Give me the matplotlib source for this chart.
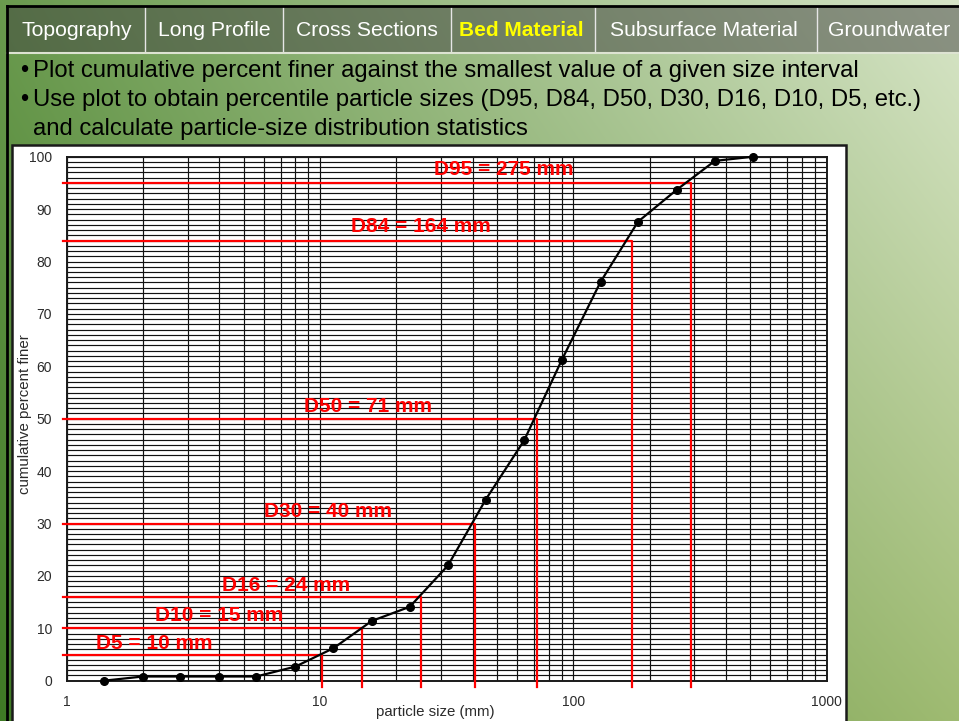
import numpy as np
import matplotlib
matplotlib.use("Agg")
import matplotlib.pyplot as plt
from matplotlib.patches import Rectangle
from matplotlib.ticker import LogLocator, MultipleLocator, NullFormatter

plt.rcParams['font.family'] = ['Liberation Sans', 'DejaVu Sans']

# cumulative percent finer vs smallest size of each interval
sizes = [1.4, 2, 2.8, 4, 5.6, 8, 11.3, 16, 22.6, 32, 45, 64, 90, 128, 180, 256, 362, 512]
pct_finer = [0, 0.8, 0.8, 0.8, 0.8, 2.7, 6.2, 11.4, 14.1, 22.0, 34.5, 45.9, 61.2, 76.1, 87.6, 93.7, 99.2, 100]

# percentiles: label value and where the red guide was drawn
d_pct = [95, 84, 50, 30, 16, 10, 5]
d_value = [275, 164, 71, 40, 24, 15, 10]
d_line_x = [290, 171, 72, 41, 25, 14.7, 10.2]

tabs = ["Topography", "Long Profile", "Cross Sections", "Bed Material",
        "Subsurface Material", "Groundwater"]
bullets = ["Plot cumulative percent finer against the smallest value of a given size interval",
           "Use plot to obtain percentile particle sizes (D95, D84, D50, D30, D16, D10, D5, etc.)"]
bullet_cont = "and calculate particle-size distribution statistics"

x_ticks = [1, 10, 100, 1000]
y_ticks = list(range(0, 101, 10))

W, H = 959, 721
fig = plt.figure(figsize=(W / 100, H / 100), dpi=100)

# ---- slide background, drawn in pixel coords
bg = fig.add_axes([0, 0, 1, 1])


def rgb(h):
    h = h.lstrip('#')
    return np.array([int(h[i:i + 2], 16) / 255 for i in (0, 2, 4)])


tl, tr, bl, br = rgb('#6a9a4e'), rgb('#d7e5c8'), rgb('#3f7a25'), rgb('#9fbb72')
u = np.linspace(0, 1, W)[None, :, None]
v = np.linspace(0, 1, H)[:, None, None]
img = (1 - u) * (1 - v) * tl + u * (1 - v) * tr + (1 - u) * v * bl + u * v * br
bg.imshow(img, extent=(0, W, H, 0), aspect='auto', zorder=0)

# tab bar
bg.add_patch(Rectangle((7, 7), W - 7, 45, facecolor='#404040', alpha=0.5, lw=0, zorder=1))
for sx in [145, 283, 451, 595, 817]:
    bg.plot([sx, sx], [7, 52], color='#e6e6e6', lw=1, zorder=2)
bg.plot([7, W], [52.5, 52.5], color='#dde3d2', lw=1.5, zorder=2)
bg.plot([7, W], [6, 6], color='black', lw=2, zorder=3)
bg.plot([7, 7], [6, H], color='black', lw=2, zorder=3)

tab_x = [77, 214, 367, 521.5, 704, 889]
for name, tx in zip(tabs, tab_x):
    if name == "Bed Material":
        bg.text(tx, 36, name, color='#ffff00', fontsize=15, fontweight='bold',
                ha='center', va='baseline', zorder=4)
    else:
        bg.text(tx, 36, name, color='white', fontsize=15.2,
                ha='center', va='baseline', zorder=4)

for line, base in zip(bullets, [77, 106]):
    bg.text(20, base, '\u2022', fontsize=17, va='baseline', zorder=4)
    bg.text(33, base, line, fontsize=17.2, va='baseline', zorder=4)
bg.text(33, 134.5, bullet_cont, fontsize=17.2, va='baseline', zorder=4)

# white chart panel
bg.add_patch(Rectangle((12, 145), 834, 620, facecolor='white', edgecolor='#1a1a1a',
                       lw=1.8, zorder=5))
bg.text(25.5, 414, 'cumulative percent finer', rotation=90, fontsize=10.8,
        color='#2b2b2b', ha='center', va='center', zorder=6)
bg.text(435, 712, 'particle size (mm)', fontsize=10.8, color='#2b2b2b',
        ha='center', va='center', zorder=6)

bg.set_xlim(0, W)
bg.set_ylim(H, 0)
bg.axis('off')

# ---- the grain size chart
ax = fig.add_axes([66.7 / W, (H - 680.7) / H, 760 / W, 524 / H])
ax.set_zorder(10)
ax.set_xscale('log')
ax.set_xlim(1, 1000)
ax.set_ylim(0, 100)

ax.set_xticks(x_ticks)
ax.set_xticklabels([str(t) for t in x_ticks])
ax.xaxis.set_minor_locator(LogLocator(base=10, subs=np.arange(2, 10)))
ax.xaxis.set_minor_formatter(NullFormatter())
ax.set_yticks(y_ticks)
ax.yaxis.set_minor_locator(MultipleLocator(1))
ax.tick_params(which='both', length=0, labelsize=10, labelcolor='#2b2b2b')
ax.tick_params(axis='y', pad=10.5)
ax.tick_params(axis='x', pad=10.5)
ax.grid(True, which='both', color='#111111', lw=0.85)
for s in ax.spines.values():
    s.set_color('#1a1a1a')
    s.set_linewidth(1.4)

# red percentile guides
label_pos = [(100, 97.6), (47.3, 86.6), (27.6, 52.4), (19.2, 32.3),
             (13.1, 18.1), (7.19, 12.4), (3.75, 7.1)]
for p, val, lx, (tx, ty) in zip(d_pct, d_value, d_line_x, label_pos):
    ax.plot([0.964, lx, lx], [p, p, -1.15], color='#ff0000', lw=1.6,
            clip_on=False, zorder=3)
    ax.text(tx, ty, f'D{p} = {val} mm', color='#ff0000', fontsize=15,
            fontweight='bold', ha='right', va='center', zorder=4)

ax.plot(sizes, pct_finer, color='black', lw=1.6, marker='o', markersize=5.5,
        clip_on=False, zorder=5)

fig.savefig('out.png', dpi=100)
